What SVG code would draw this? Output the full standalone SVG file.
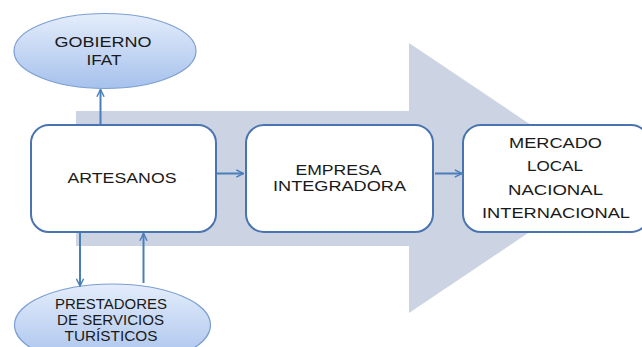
<svg xmlns="http://www.w3.org/2000/svg" width="642" height="347" viewBox="0 0 642 347">
<defs>
<linearGradient id="eg" x1="0" y1="0" x2="0" y2="1">
<stop offset="0" stop-color="#e4edfb"/>
<stop offset="1" stop-color="#a6c1ec"/>
</linearGradient>
<marker id="ah" viewBox="0 0 10 10" refX="9" refY="5" markerWidth="9" markerHeight="9" markerUnits="userSpaceOnUse" orient="auto">
<path d="M1,1 L9,5 L1,9" fill="none" stroke="#4a7ebb" stroke-width="1.6"/>
</marker>
<style>
.box{fill:#ffffff;stroke:#4a74b0;stroke-width:2}
.ell{fill:url(#eg);stroke:#7c9fd3;stroke-width:1.2}
.t{font-family:"Liberation Sans",Arial,sans-serif;font-size:14.5px;fill:#1a1a1a;text-anchor:middle}
.c{stroke:#4a7ebb;stroke-width:2;fill:none;marker-end:url(#ah)}
</style>
</defs>
<rect width="642" height="347" fill="#ffffff"/>
<polygon points="76,111 409,111 409,43 610,178 409,313 409,246 76,246" fill="#ccd3e3"/>
<g id="gobierno">
<ellipse class="ell" cx="105" cy="51" rx="91" ry="37.5"/>
<text class="t" x="103" y="47" textLength="97" lengthAdjust="spacingAndGlyphs">GOBIERNO</text>
<text class="t" x="104" y="64.5" textLength="35" lengthAdjust="spacingAndGlyphs">IFAT</text>
</g>
<g id="prestadores">
<ellipse class="ell" cx="112.5" cy="325" rx="98" ry="41"/>
<text class="t" x="111" y="308.5" textLength="112" lengthAdjust="spacingAndGlyphs">PRESTADORES</text>
<text class="t" x="110.5" y="324.5" textLength="107" lengthAdjust="spacingAndGlyphs">DE SERVICIOS</text>
<text class="t" x="111" y="341" textLength="93" lengthAdjust="spacingAndGlyphs">TURÍSTICOS</text>
</g>
<g id="artesanos">
<rect class="box" x="31" y="125" width="185" height="107" rx="18"/>
<text class="t" x="122" y="183" textLength="109" lengthAdjust="spacingAndGlyphs">ARTESANOS</text>
</g>
<g id="empresa">
<rect class="box" x="246" y="125" width="187" height="107" rx="18"/>
<text class="t" x="338.5" y="175" textLength="86" lengthAdjust="spacingAndGlyphs">EMPRESA</text>
<text class="t" x="339.5" y="191" textLength="133" lengthAdjust="spacingAndGlyphs">INTEGRADORA</text>
</g>
<g id="mercado">
<rect class="box" x="463" y="125" width="186" height="107" rx="18"/>
<text class="t" x="555.5" y="148" textLength="93" lengthAdjust="spacingAndGlyphs">MERCADO</text>
<text class="t" x="555" y="171" textLength="56" lengthAdjust="spacingAndGlyphs">LOCAL</text>
<text class="t" x="555.5" y="194.5" textLength="95" lengthAdjust="spacingAndGlyphs">NACIONAL</text>
<text class="t" x="556" y="217.5" textLength="148" lengthAdjust="spacingAndGlyphs">INTERNACIONAL</text>
</g>
<g id="connectors">
<line class="c" x1="217" y1="173.5" x2="243.5" y2="173.5"/>
<line class="c" x1="435" y1="173.5" x2="462" y2="173.5"/>
<line class="c" x1="100.5" y1="124" x2="100.5" y2="89.5"/>
<line class="c" x1="80" y1="233" x2="80" y2="286"/>
<line class="c" x1="143.5" y1="283" x2="143.5" y2="233.5"/>
</g>
</svg>
